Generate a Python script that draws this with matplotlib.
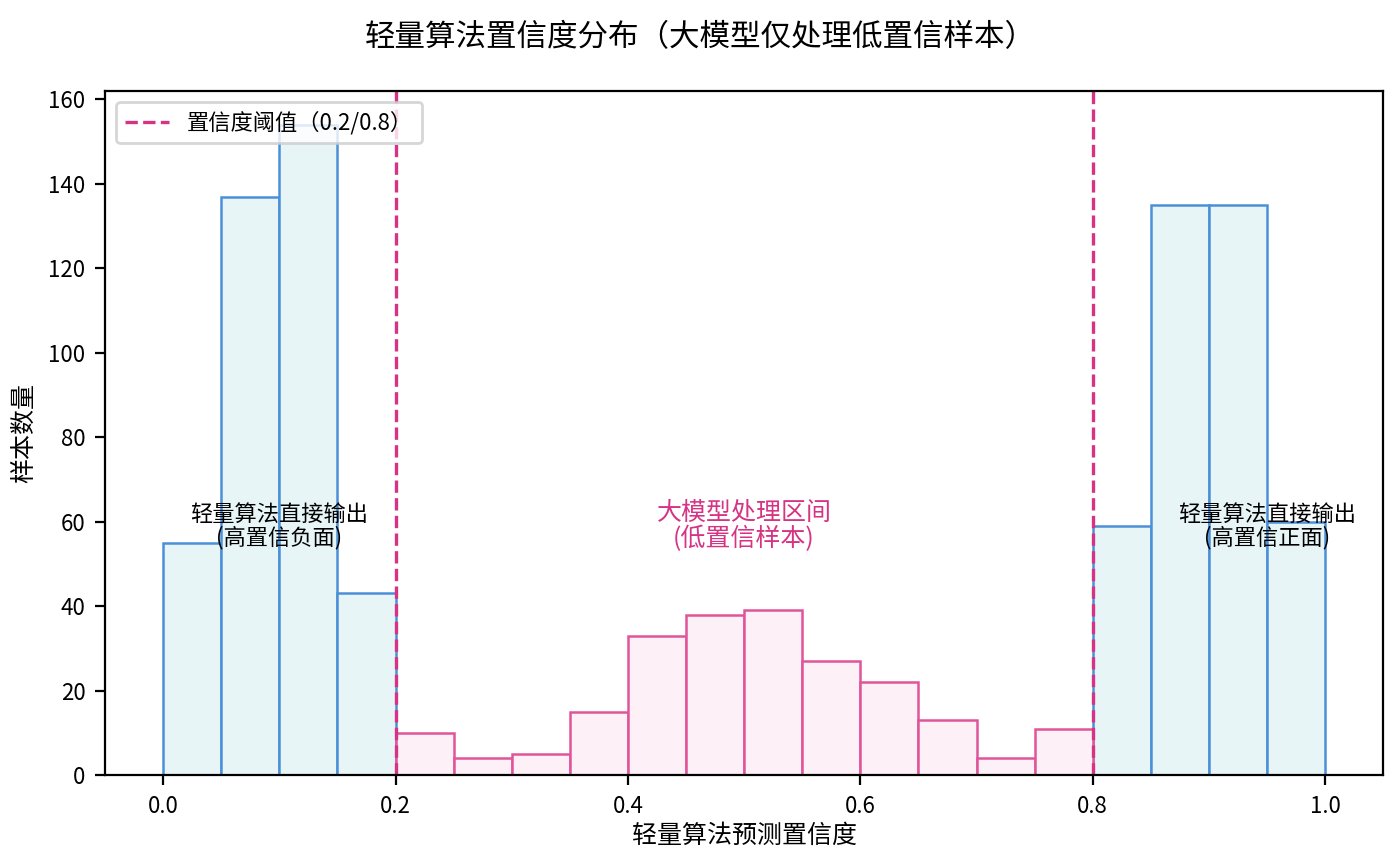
import matplotlib
matplotlib.use("Agg")
import matplotlib.pyplot as plt
import numpy as np

plt.rcParams['font.family'] = ['Noto Sans CJK SC', 'DejaVu Sans']
plt.rcParams['axes.unicode_minus'] = False

left_edges = [0.0, 0.05, 0.10, 0.15]
left_counts = [55, 137, 154, 43]
mid_edges = [0.20, 0.25, 0.30, 0.35, 0.40, 0.45, 0.50, 0.55, 0.60, 0.65, 0.70, 0.75]
mid_counts = [10, 4, 5, 15, 33, 38, 39, 27, 22, 13, 4, 11]
right_edges = [0.80, 0.85, 0.90, 0.95]
right_counts = [59, 135, 135, 60]
width = 0.05

fig, ax = plt.subplots(figsize=(7, 4.33), dpi=200)
ax.bar(left_edges + right_edges, left_counts + right_counts, width=width, align='edge',
       color='#e8f5f7', edgecolor='#4a90d9', linewidth=0.9)
ax.bar(mid_edges, mid_counts, width=width, align='edge',
       color='#fdf0f6', edgecolor='#e0559a', linewidth=0.9)
ax.axvline(0.2, color='#d63384', linestyle='--', linewidth=1.2, label='置信度阈值（0.2/0.8）')
ax.axvline(0.8, color='#d63384', linestyle='--', linewidth=1.2)

ax.text(0.1, 59, '轻量算法直接输出\n(高置信负面)', ha='center', va='center', fontsize=8, linespacing=1.0)
ax.text(0.5, 59, '大模型处理区间\n(低置信样本)', ha='center', va='center', fontsize=9, color='#d63384', linespacing=1.0)
ax.text(0.95, 59, '轻量算法直接输出\n(高置信正面)', ha='center', va='center', fontsize=8, linespacing=1.0)

ax.set_xlim(-0.05, 1.05)
ax.set_ylim(0, 162)
ax.set_xlabel('轻量算法预测置信度', fontsize=9, labelpad=2)
ax.set_ylabel('样本数量', fontsize=9)
ax.tick_params(labelsize=8)
fig.suptitle('轻量算法置信度分布（大模型仅处理低置信样本）', fontsize=11, y=0.975)
ax.legend(loc='upper left', fontsize=8)
fig.subplots_adjust(left=0.075, right=0.988, top=0.895, bottom=0.105)
fig.savefig('out.png')
